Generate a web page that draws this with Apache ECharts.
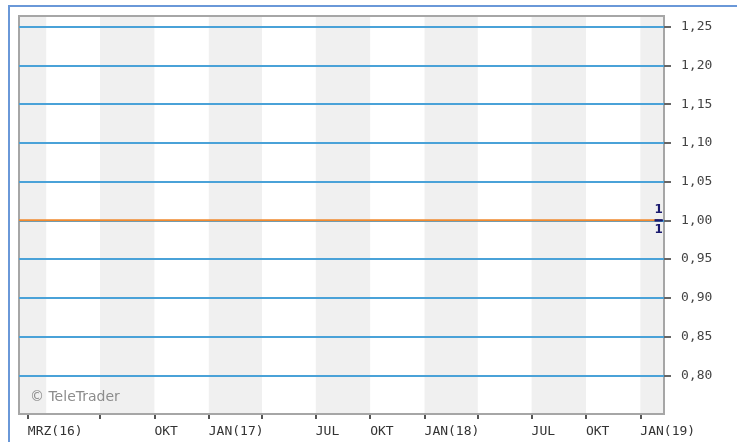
<!DOCTYPE html>
<html>
<head>
<meta charset="utf-8">
<style>
  html, body { margin: 0; padding: 0; background: #fff; }
  #chart { width: 737px; height: 442px; }
</style>
<script src="https://cdn.jsdelivr.net/npm/echarts@6/dist/echarts.min.js"></script>
</head>
<body>
<div id="chart"></div>
<script>
// axis range (dates) and value range
const xMin = '2016-02-15';
const xMax = '2019-02-10';
const yMin = 0.75;
const yMax = 1.2638;

// quarterly ticks on the time axis
const tickDates = ['2016-03-01', '2016-07-01', '2016-10-01', '2017-01-01', '2017-04-01', '2017-07-01',
    '2017-10-01', '2018-01-01', '2018-04-01', '2018-07-01', '2018-10-01', '2019-01-01'];
const labelDates = ['2016-03-01', '2016-10-01', '2017-01-01', '2017-07-01', '2017-10-01',
    '2018-01-01', '2018-07-01', '2018-10-01', '2019-01-01'];
const labelTexts = ['MRZ(16)', 'OKT', 'JAN(17)', 'JUL', 'OKT', 'JAN(18)', 'JUL', 'OKT', 'JAN(19)'];

// price levels on the right axis
const yTicks = [0.80, 0.85, 0.90, 0.95, 1.00, 1.05, 1.10, 1.15, 1.20, 1.25];

// shaded quarters
const bandStarts = ['2016-02-15', '2016-07-01', '2017-01-01', '2017-07-01', '2018-01-01', '2018-07-01', '2019-01-01'];
const bandEnds = ['2016-04-01', '2016-10-01', '2017-04-01', '2017-10-01', '2018-04-01', '2018-10-01', '2019-02-10'];

// the series (flat at 1)
const lineDates = ['2016-02-15', '2016-07-01', '2017-01-01', '2017-07-01', '2018-01-01', '2018-07-01', '2019-01-01', '2019-02-01'];
const lineValues = [1, 1, 1, 1, 1, 1, 1, 1];
const lastValue = 1;

const t = d => Date.parse(d);
const labelMap = {};
labelDates.forEach((d, i) => { labelMap[t(d)] = labelTexts[i]; });

const axisFont = '"DejaVu Sans Mono", monospace';

const chart = echarts.init(document.getElementById('chart'));
chart.setOption({
    animation: false,
    backgroundColor: '#fff',
    grid: {
        left: 19, top: 16, right: 73, bottom: 28,
        z: 2,
        show: true,
        backgroundColor: 'transparent',
        borderColor: '#a6a6a6',
        borderWidth: 2
    },
    graphic: [
        {
            type: 'rect', silent: true, z: 100,
            shape: { x: 9, y: 6, width: 900, height: 600 },
            style: { fill: 'none', stroke: '#6a98d8', lineWidth: 2 }
        },
        {
            type: 'text', left: 30, top: 390, z: 100,
            style: { text: '\u00a9 TeleTrader', fill: '#8c8c8c', font: '14px "DejaVu Sans", sans-serif' }
        }
    ],
    xAxis: {
        type: 'value',
        min: t(xMin),
        max: t(xMax),
        axisLine: { show: false },
        splitLine: { show: false },
        axisTick: {
            show: true, length: 5, inside: false,
            customValues: tickDates.map(t),
            lineStyle: { color: '#555', width: 2 }
        },
        axisLabel: {
            customValues: labelDates.map(t),
            formatter: v => labelMap[v] || '',
            align: 'left',
            margin: 11,
            color: '#333',
            fontFamily: axisFont,
            fontSize: 13
        }
    },
    yAxis: {
        type: 'value',
        position: 'right',
        z: 3,
        min: yMin,
        max: yMax,
        axisLine: { show: false },
        axisTick: {
            show: true, length: 7,
            customValues: yTicks,
            lineStyle: { color: '#666', width: 2 }
        },
        axisLabel: {
            customValues: yTicks,
            formatter: v => v.toFixed(2).replace('.', ','),
            margin: 17,
            color: '#444',
            fontFamily: axisFont,
            fontSize: 13
        },
        splitLine: {
            show: true,
            lineStyle: { color: '#4aa2d8', width: 2 }
        }
    },
    series: [{
        type: 'line',
        z: 5,
        data: lineDates.map((d, i) => [t(d), lineValues[i]]),
        showSymbol: false,
        lineStyle: { color: '#f08a30', width: 2 },
        markArea: {
            silent: true,
            z: 1,
            itemStyle: { color: '#f0f0f0' },
            data: bandStarts.map((s, i) => [{ xAxis: t(s) }, { xAxis: t(bandEnds[i]) }])
        },
        markPoint: {
            symbol: 'rect',
            symbolSize: [8, 2],
            z: 6,
            itemStyle: { color: '#1a1a6e' },
            label: {
                color: '#1a1a6e', fontWeight: 'bold', fontSize: 12,
                fontFamily: '"DejaVu Sans", sans-serif', distance: 3
            },
            data: [
                { coord: [t(lineDates[lineDates.length - 1]), lastValue], value: lastValue, label: { position: 'top', formatter: '{c}' } },
                { coord: [t(lineDates[lineDates.length - 1]), lastValue], value: lastValue, label: { position: 'bottom', formatter: '{c}' } }
            ]
        }
    }]
});
</script>
</body>
</html>
